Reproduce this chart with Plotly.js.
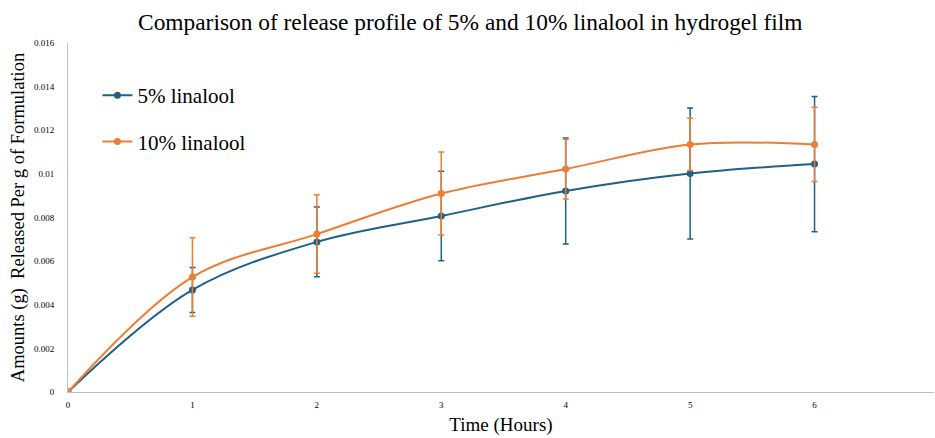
<!DOCTYPE html>
<html>
<head>
<meta charset="utf-8">
<script src="https://cdn.plot.ly/plotly-3.0.1.min.js"></script>
<style>html,body{margin:0;padding:0;background:#fff;}#chart{width:935px;height:438px;}</style>
</head>
<body>
<div id="chart"></div>
<script>
var hours = [0, 1, 2, 3, 4, 5, 6];
var linalool5 = [0, 0.00468, 0.00688, 0.00807, 0.00922, 0.01002, 0.01045];
var linalool5Err = [0, 0.00103, 0.0016, 0.00205, 0.00243, 0.0030, 0.0031];
var linalool10 = [0, 0.00527, 0.00724, 0.00910, 0.01022, 0.01135, 0.01135];
var linalool10Err = [0, 0.0018, 0.0018, 0.0019, 0.00137, 0.0012, 0.0017];
var xTicks = [0, 1, 2, 3, 4, 5, 6];
var yTicks = [0, 0.002, 0.004, 0.006, 0.008, 0.01, 0.012, 0.014, 0.016];
var yTickText = ['0', '0.002', '0.004', '0.006', '0.008', '0.01', '0.012', '0.014', '0.016'];

var blue = '#1F6089';
var orange = '#ED7D31';
var serif = 'Liberation Serif, Times New Roman, serif';

var traces = [
  {
    x: hours, y: linalool5, name: '5% linalool', type: 'scatter', mode: 'lines+markers',
    legendgroup: 'a',
    line: {color: blue, width: 2, shape: 'spline', smoothing: 1},
    marker: {color: blue, size: 7, line: {width: 0}},
    error_y: {type: 'data', array: linalool5Err, visible: true, color: blue, thickness: 1.5, width: 3}
  },
  {
    x: hours, y: linalool10, name: '10% linalool', type: 'scatter', mode: 'lines+markers',
    legendgroup: 'b',
    line: {color: orange, width: 2, shape: 'spline', smoothing: 1},
    marker: {color: orange, size: 7, line: {width: 0}},
    error_y: {type: 'data', array: linalool10Err, visible: true, color: orange, thickness: 1.5, width: 3}
  }
];

var layout = {
  width: 935, height: 438,
  margin: {l: 68, r: 1, t: 43, b: 46},
  paper_bgcolor: '#fff', plot_bgcolor: '#fff',
  font: {family: serif, color: '#000'},
  title: {text: 'Comparison of release profile of 5% and 10% linalool in hydrogel film',
          font: {family: serif, size: 23.4, color: '#000'}, x: 0.503, xanchor: 'center', y: 0.95, yanchor: 'middle'},
  xaxis: {
    range: [0, 6.96], tickvals: xTicks, ticktext: xTicks.map(String),
    showgrid: false, zeroline: false, showline: true, linecolor: '#BFBFBF', linewidth: 1,
    ticks: '', ticklabelstandoff: 4, tickfont: {family: serif, size: 9, color: '#000'},
    title: {text: 'Time (Hours)', font: {family: serif, size: 19, color: '#000'}, standoff: 8}
  },
  yaxis: {
    range: [0, 0.016], tickvals: yTicks, ticktext: yTickText,
    showgrid: false, zeroline: false, showline: true, linecolor: '#BFBFBF', linewidth: 1,
    ticks: '', ticklabelstandoff: 11, tickfont: {family: serif, size: 9, color: '#000'},
    title: {text: 'Amounts (g)  Released Per g of Formulation', font: {family: serif, size: 18.5, color: '#000'}, standoff: 4}
  },
  showlegend: true,
  legend: {
    x: 0.034, y: 0.908, xanchor: 'left', yanchor: 'top',
    font: {family: serif, size: 21, color: '#000'},
    bgcolor: 'rgba(0,0,0,0)', traceorder: 'grouped', tracegroupgap: 16,
    itemwidth: 30
  }
};

Plotly.newPlot('chart', traces, layout, {displayModeBar: false, staticPlot: true});
</script>
</body>
</html>
